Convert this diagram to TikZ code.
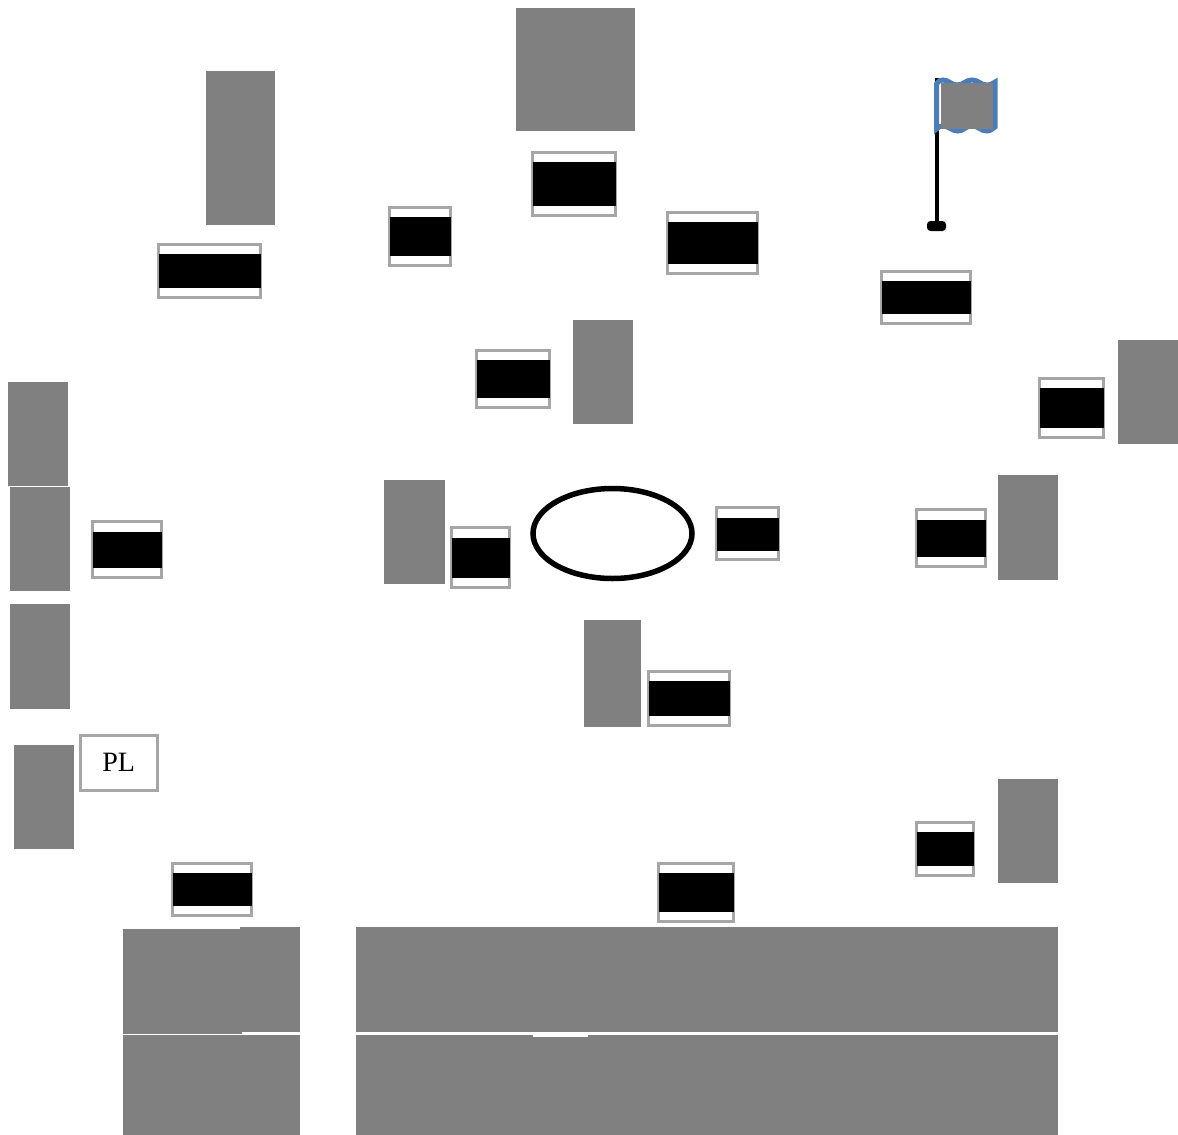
\documentclass[tikz,border=0pt]{standalone}
\usepackage{fontspec}
\setmainfont{Liberation Serif}
\usetikzlibrary{shapes.geometric}
\definecolor{white}{RGB}{255,255,255}
\definecolor{black}{RGB}{0,0,0}
\definecolor{block_gray}{RGB}{128,128,128}
\definecolor{frame_gray}{RGB}{166,166,166}
\definecolor{flag_blue}{RGB}{74,126,187}
\tikzset{
	block/.style={rectangle,fill=block_gray,inner sep=0pt,outer sep=0pt,anchor=north west},
	frame/.style={rectangle,draw=frame_gray,line width=3pt,fill=white,inner sep=0pt,outer sep=0pt,anchor=north west},
	band/.style={rectangle,fill=black,inner sep=0pt,outer sep=0pt,anchor=north west}
}

\begin{document}
\begin{tikzpicture}[x=1pt,y=-1pt]
	\useasboundingbox (0,0) rectangle (1178,1135);

	\foreach \n/\x/\y/\w/\h in {1/516/8/119/123,2/206/71/69/154,3/573/320/60/104,4/1118/340/60/104,5/8/382/60/104,6/10/487/60/104,7/384/480/61/104,8/998/475/60/105,9/10/604/60/105,10/584/620/57/107,11/14/745/60/104,12/998/779/60/104,13/123/929/119/105,14/240/927/60/105,15/123/1035/177/100,16/356/927/702/105,17/356/1035/702/100}
		\node[block,minimum width=\w pt,minimum height=\h pt] (g\n) at (\x,\y) {};
	\node[rectangle,fill=white,inner sep=0pt,anchor=north west,minimum width=55pt,minimum height=2pt] (notch) at (533,1035) {};

	\foreach \n/\x/\y/\w/\h/\t/\b in {1/157/243/105/56/254/34,2/388/206/64/61/217/39,3/531/151/86/66/162/44,4/666/211/93/64/222/42,5/880/270/92/55/281/33,6/475/349/76/60/360/38,7/1038/377/67/62/388/40,8/91/520/72/59/532/36,9/450/526/61/63/538/40,10/715/506/65/55/518/33,11/915/508/72/60/520/37,12/647/670/84/57/681/35,13/171/862/82/55/873/33,14/657/862/78/61/873/39,15/915/821/60/56/832/34}{
		\node[frame,minimum width=\w pt-2.5pt,minimum height=\h pt-2.5pt] (l\n) at (\x+1,\y+1) {};
		\node[band,minimum width=\w pt-3pt,minimum height=\b pt] (b\n) at (\x+1.5,\t) {};
	}

	\node[frame,minimum width=76.5pt,minimum height=54.5pt,font=\fontsize{28}{30}\selectfont] (pl) at (80.5,735.5) {PL};

	\node[ellipse,draw=black,line width=5.5pt,inner sep=0pt,outer sep=0pt,minimum width=159pt,minimum height=90pt] (ring) at (612.5,533.5) {};

	\coordinate (flag_top) at (937,78);
	\node[rectangle,rounded corners=3.5pt,fill=black,inner sep=0pt,outer sep=0pt,minimum width=19pt,minimum height=10pt] (flag_base) at (936.5,226) {};
	\draw[black,line width=4.5pt] (flag_top) -- (flag_top |- flag_base.north);
	\draw[flag_blue,line width=5pt,line join=miter] (936.5,84) .. controls (938,81) and (940,80) .. (943,80) .. controls (949,80) and (951,85) .. (957,85) .. controls (964,85) and (965,80) .. (972,80) .. controls (979,80) and (980,85) .. (987,85) .. controls (991,85) and (993,83) .. (995,82) -- (995,127) .. controls (993,128) and (991,131) .. (987,131) .. controls (980,131) and (979,126) .. (972,126) .. controls (965,126) and (964,131) .. (958,131) .. controls (951,131) and (949,126) .. (943,126) .. controls (940,126) and (938,127) .. (936.5,129) -- cycle;
	\node[block,minimum width=51.5pt,minimum height=46pt] (g18) at (941,83) {};
\end{tikzpicture}
\end{document}
